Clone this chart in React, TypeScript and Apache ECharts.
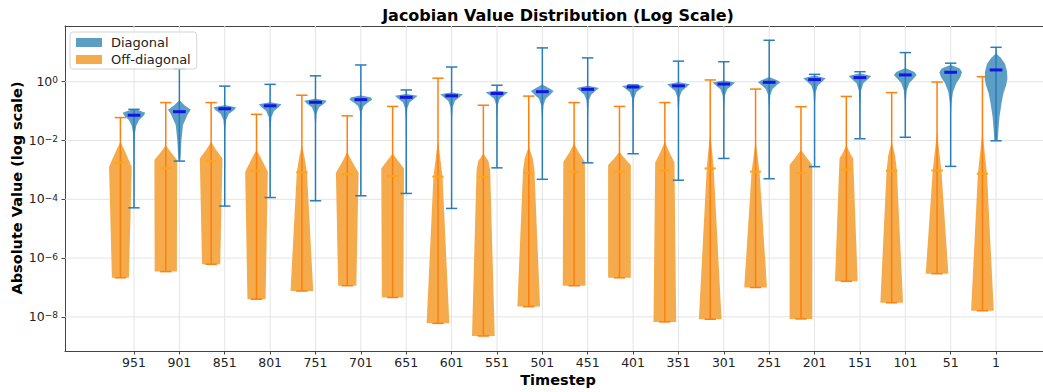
import React, { useEffect, useRef } from 'react';
import * as echarts from 'echarts';

// ---- data (values are log10 of absolute Jacobian values) ----
const timesteps = ['951', '901', '851', '801', '751', '701', '651', '601', '551', '501',
  '451', '401', '351', '301', '251', '201', '151', '101', '51', '1'];

// Off-diagonal
const offMaxExp = [-1.22, -0.71, -0.71, -1.11, -0.46, -1.16, -0.84, 0.12, -0.80, -0.49,
  -0.71, -0.84, -0.71, 0.06, -0.25, -0.85, -0.50, -0.37, -0.01, 0.17];
const offMedExp = [-2.75, -2.95, -2.70, -3.03, -3.08, -3.15, -3.21, -3.23, -3.24, -3.10,
  -3.06, -3.06, -3.02, -2.95, -3.06, -3.10, -2.99, -3.03, -3.02, -3.13];
const offMinExp = [-6.67, -6.46, -6.21, -7.40, -7.12, -6.94, -7.34, -8.22, -8.65, -7.65,
  -6.94, -6.67, -8.17, -8.08, -7.00, -8.07, -6.79, -7.52, -6.53, -7.79];

// Diagonal
const diagMaxExp = [-0.94, 0.45, -0.15, -0.09, 0.20, 0.57, -0.28, 0.50, -0.12, 1.15,
  0.81, -0.11, 0.70, 0.68, 1.41, 0.25, 0.34, 0.99, 0.63, 1.17];
const diagMedExp = [-1.14, -1.02, -0.92, -0.82, -0.70, -0.61, -0.53, -0.48, -0.40, -0.34,
  -0.26, -0.18, -0.14, -0.08, -0.02, 0.07, 0.14, 0.23, 0.32, 0.40];
const diagMinExp = [-4.29, -2.70, -4.23, -3.94, -4.05, -3.88, -3.80, -4.31, -2.93, -3.32,
  -2.76, -2.45, -3.35, -2.61, -3.30, -2.89, -1.94, -1.89, -2.88, -2.01];

// Violin outlines: [log10 value, relative half width], top to bottom
const offProfiles: number[][][] = [
  [[-2.04, 0], [-2.32, 0.35], [-2.89, 1.0], [-6.67, 0.75]],
  [[-2.16, 0], [-2.4, 0.45], [-2.66, 1.0], [-6.46, 0.98]],
  [[-2.04, 0], [-2.3, 0.4], [-2.61, 1.0], [-6.21, 0.8]],
  [[-2.32, 0], [-2.6, 0.4], [-3.06, 1.0], [-7.40, 0.8]],
  [[-2.16, 0], [-2.6, 0.25], [-3.1, 0.45], [-7.12, 1.0]],
  [[-2.38, 0], [-2.7, 0.4], [-3.1, 1.0], [-6.94, 0.8]],
  [[-2.44, 0], [-2.7, 0.5], [-2.95, 1.0], [-7.34, 0.95]],
  [[-2.0, 0], [-2.6, 0.2], [-3.23, 0.4], [-8.22, 1.0]],
  [[-2.44, 0], [-2.7, 0.45], [-3.0, 0.6], [-8.65, 1.0]],
  [[-2.2, 0], [-2.6, 0.35], [-3.0, 0.5], [-7.65, 1.0]],
  [[-2.1, 0], [-2.4, 0.4], [-2.72, 0.95], [-6.94, 1.0]],
  [[-2.38, 0], [-2.6, 0.45], [-2.83, 1.0], [-6.67, 1.0]],
  [[-2.04, 0], [-2.4, 0.4], [-2.75, 0.85], [-8.17, 1.0]],
  [[-1.7, 0], [-2.9, 0.3], [-8.08, 1.0]],
  [[-2.0, 0], [-3.06, 0.35], [-7.0, 1.0]],
  [[-2.32, 0], [-2.55, 0.45], [-2.83, 1.0], [-8.07, 1.0]],
  [[-2.16, 0], [-2.45, 0.35], [-2.6, 0.6], [-6.79, 1.0]],
  [[-2.04, 0], [-2.5, 0.3], [-3.0, 0.45], [-7.52, 1.0]],
  [[-1.7, 0], [-3.02, 0.38], [-6.53, 1.0]],
  [[-1.7, 0], [-3.13, 0.4], [-7.79, 1.0]],
];

const diagProfiles: number[][][] = [
  [[-0.94, 0.15], [-1.06, 1.0], [-1.16, 0.85], [-1.3, 0.45], [-1.5, 0.2], [-1.75, 0.08], [-2.5, 0.03], [-4.29, 0.01]],
  [[-0.65, 0.05], [-0.8, 0.45], [-0.95, 1.0], [-1.1, 0.75], [-1.47, 0.32], [-2.0, 0.18], [-2.6, 0.1], [-2.7, 0.05]],
  [[-0.8, 0.05], [-0.87, 1.0], [-0.95, 0.85], [-1.1, 0.35], [-1.3, 0.12], [-1.7, 0.04], [-4.23, 0.01]],
  [[-0.7, 0.05], [-0.77, 1.0], [-0.85, 0.8], [-1.0, 0.35], [-1.2, 0.12], [-1.6, 0.04], [-3.94, 0.01]],
  [[-0.58, 0.05], [-0.65, 1.0], [-0.73, 0.8], [-0.88, 0.3], [-1.08, 0.1], [-1.5, 0.03], [-4.05, 0.01]],
  [[-0.47, 0.05], [-0.54, 0.9], [-0.61, 1.0], [-0.7, 0.65], [-0.83, 0.25], [-1.02, 0.07], [-1.5, 0.03], [-3.88, 0.01]],
  [[-0.42, 0.05], [-0.48, 1.0], [-0.56, 0.75], [-0.7, 0.3], [-0.9, 0.1], [-1.3, 0.03], [-3.80, 0.01]],
  [[-0.37, 0.05], [-0.43, 1.0], [-0.51, 0.75], [-0.65, 0.3], [-0.85, 0.1], [-1.3, 0.03], [-4.31, 0.01]],
  [[-0.3, 0.05], [-0.36, 1.0], [-0.44, 0.7], [-0.58, 0.25], [-0.78, 0.08], [-1.2, 0.03], [-2.93, 0.01]],
  [[-0.1, 0.05], [-0.22, 0.6], [-0.32, 1.0], [-0.42, 0.75], [-0.58, 0.3], [-0.8, 0.1], [-1.2, 0.03], [-3.32, 0.01]],
  [[-0.14, 0.05], [-0.21, 1.0], [-0.29, 0.75], [-0.44, 0.3], [-0.64, 0.1], [-1.1, 0.03], [-2.76, 0.01]],
  [[-0.11, 0.3], [-0.15, 1.0], [-0.21, 0.75], [-0.35, 0.3], [-0.55, 0.1], [-1.0, 0.03], [-2.45, 0.01]],
  [[-0.02, 0.05], [-0.09, 1.0], [-0.17, 0.75], [-0.32, 0.3], [-0.52, 0.1], [-1.0, 0.03], [-3.35, 0.01]],
  [[0.04, 0.05], [-0.03, 1.0], [-0.11, 0.75], [-0.26, 0.3], [-0.46, 0.1], [-0.9, 0.03], [-2.61, 0.01]],
  [[0.15, 0.05], [0.05, 0.7], [-0.02, 1.0], [-0.1, 0.7], [-0.25, 0.3], [-0.45, 0.1], [-0.9, 0.03], [-3.30, 0.01]],
  [[0.2, 0.1], [0.12, 1.0], [0.03, 0.75], [-0.12, 0.3], [-0.35, 0.1], [-0.8, 0.03], [-2.89, 0.01]],
  [[0.28, 0.1], [0.19, 1.0], [0.1, 0.75], [-0.05, 0.3], [-0.3, 0.1], [-0.8, 0.03], [-1.94, 0.01]],
  [[0.45, 0.1], [0.33, 0.8], [0.23, 1.0], [0.12, 0.75], [-0.05, 0.35], [-0.3, 0.12], [-0.7, 0.04], [-1.89, 0.01]],
  [[0.55, 0.15], [0.45, 0.8], [0.32, 1.0], [0.15, 0.85], [-0.05, 0.5], [-0.35, 0.2], [-0.7, 0.08], [-1.1, 0.03], [-2.88, 0.01]],
  [[1.17, 0], [0.95, 0.05], [0.8, 0.45], [0.6, 0.8], [0.35, 0.97], [0.1, 1.0], [-0.1, 0.9], [-0.4, 0.65], [-0.7, 0.5], [-1.2, 0.3], [-1.6, 0.22], [-2.01, 0.15]],
];

const yTickExps = [-8, -6, -4, -2, 0];
const xTickPos = timesteps.map((_, i) => i);

// ---- layout / style ----
const X_MIN = -1.521;
const X_MAX = 20.035;
const Y_MIN = -9.16;
const Y_MAX = 1.895;
const OFF_SHIFT = -0.3;
const HALF = 0.25;
const CAP = 0.125;
const FONT = '"DejaVu Sans", "Liberation Sans", sans-serif';

const BLUE_FILL = '#5d9fc4';
const BLUE_LINE = '#2a7db8';
const BLUE_MED = '#1414e6';
const ORANGE_FILL = '#f5aa4c';
const ORANGE_LINE = '#ff7f0e';
const ORANGE_MED = '#ffa51a';

function violinRenderer(
  profiles: number[][][], maxs: number[], mins: number[], meds: number[],
  fill: string, line: string, med: string, medWidth: number, medHalf: number,
) {
  return (_params: any, api: any) => {
    const i = api.value(2);
    const x = api.value(0);
    const prof = profiles[i];
    const right = prof.map(([e, w]) => api.coord([x + w * HALF, e]));
    const left = prof.map(([e, w]) => api.coord([x - w * HALF, e])).reverse();
    const top = api.coord([x, maxs[i]]);
    const bot = api.coord([x, mins[i]]);
    const tl = api.coord([x - CAP, maxs[i]]);
    const tr = api.coord([x + CAP, maxs[i]]);
    const bl = api.coord([x - CAP, mins[i]]);
    const br = api.coord([x + CAP, mins[i]]);
    const ml = api.coord([x - medHalf, meds[i]]);
    const mr = api.coord([x + medHalf, meds[i]]);
    return {
      type: 'group',
      children: [
        { type: 'polygon', shape: { points: right.concat(left) }, style: { fill, stroke: null } },
        { type: 'line', shape: { x1: top[0], y1: top[1], x2: bot[0], y2: bot[1] }, style: { stroke: line, lineWidth: 1.5 } },
        { type: 'line', shape: { x1: tl[0], y1: tl[1], x2: tr[0], y2: tr[1] }, style: { stroke: line, lineWidth: 1.5 } },
        { type: 'line', shape: { x1: bl[0], y1: bl[1], x2: br[0], y2: br[1] }, style: { stroke: line, lineWidth: 1.5 } },
        { type: 'line', shape: { x1: ml[0], y1: ml[1], x2: mr[0], y2: mr[1] }, style: { stroke: med, lineWidth: medWidth } },
      ],
    };
  };
}

export default function App() {
  const ref = useRef<HTMLDivElement>(null);

  useEffect(() => {
    document.body.style.margin = '0';
    const chart = echarts.init(ref.current!, null, { renderer: 'svg' });

    const gridColor = '#e4e4e4';
    const axisColor = '#444444';

    const option: any = {
      animation: false,
      textStyle: { fontFamily: FONT },
      grid: { left: 65, right: 0, top: 26, bottom: 41, containLabel: false },
      graphic: [
        {
          type: 'text', x: 558, y: 15, silent: true,
          style: { text: 'Jacobian Value Distribution (Log Scale)', fill: '#000', font: `bold 16px ${FONT}`, align: 'center', verticalAlign: 'middle' },
        },
        {
          type: 'text', x: 558, y: 380, silent: true,
          style: { text: 'Timestep', fill: '#000', font: `bold 14.5px ${FONT}`, align: 'center', verticalAlign: 'middle' },
        },
        {
          type: 'text', x: 17, y: 188, rotation: Math.PI / 2, silent: true,
          style: { text: 'Absolute Value (log scale)', fill: '#000', font: `bold 14.5px ${FONT}`, align: 'center', verticalAlign: 'middle' },
        },
      ],
      legend: {
        data: ['Diagonal', 'Off-diagonal'],
        orient: 'vertical',
        left: 70,
        top: 32,
        icon: 'rect',
        itemWidth: 26,
        itemHeight: 9,
        itemGap: 4,
        padding: [4, 6, 3, 6],
        backgroundColor: 'rgba(255,255,255,0.8)',
        borderColor: '#d4d4d4',
        borderWidth: 1,
        borderRadius: 3,
        selectedMode: false,
        textStyle: { fontSize: 13, color: '#222', fontFamily: FONT, padding: [0, 0, 0, 4] },
        z: 10,
      },
      xAxis: [
        {
          type: 'value', min: X_MIN, max: X_MAX, position: 'bottom',
          axisLine: { show: true, onZero: false, lineStyle: { color: axisColor, width: 1 } },
          axisTick: { show: true, length: 3.5, customValues: xTickPos, lineStyle: { color: axisColor } },
          axisLabel: {
            show: true, customValues: xTickPos, margin: 5, fontSize: 12.5, color: '#222', fontFamily: FONT,
            formatter: (v: number) => timesteps[Math.round(v)] ?? '',
          },
          splitLine: { show: false },
        },
        {
          type: 'value', min: X_MIN, max: X_MAX, position: 'top',
          axisLine: { show: true, onZero: false, lineStyle: { color: axisColor, width: 1 } },
          axisTick: { show: false }, axisLabel: { show: false }, splitLine: { show: false },
        },
      ],
      yAxis: {
        type: 'value', min: Y_MIN, max: Y_MAX,
        axisLine: { show: true, onZero: false, lineStyle: { color: axisColor, width: 1 } },
        axisTick: { show: true, length: 3.5, customValues: yTickExps, lineStyle: { color: axisColor } },
        axisLabel: {
          show: true, customValues: yTickExps, margin: 7, color: '#222', fontFamily: FONT,
          formatter: (v: number) => `{b|10}{s|${v < 0 ? '\u2212' + Math.abs(Math.round(v)) : Math.round(v)}}`,
          rich: {
            b: { fontSize: 12.5, lineHeight: 12, color: '#222', fontFamily: FONT, verticalAlign: 'bottom' },
            s: { fontSize: 9, lineHeight: 9, color: '#222', fontFamily: FONT, verticalAlign: 'top', padding: [0, 0, 5, 0] },
          },
        },
        splitLine: { show: false },
      },
      series: [
        {
          type: 'custom', name: 'vgrid', silent: true, z: 1,
          data: xTickPos.map((p) => [p, 0]),
          encode: { x: 0, y: 1 },
          renderItem: (_p: any, api: any) => {
            const x = api.value(0);
            const a = api.coord([x, Y_MIN]);
            const b = api.coord([x, Y_MAX]);
            return { type: 'line', shape: { x1: a[0], y1: a[1], x2: b[0], y2: b[1] }, style: { stroke: gridColor, lineWidth: 1 } };
          },
        },
        {
          type: 'custom', name: 'hgrid', silent: true, z: 1,
          data: yTickExps.map((e) => [0, e]),
          encode: { x: 0, y: 1 },
          renderItem: (_p: any, api: any) => {
            const y = api.value(1);
            const a = api.coord([X_MIN, y]);
            const b = api.coord([X_MAX, y]);
            return { type: 'line', shape: { x1: a[0], y1: a[1], x2: b[0], y2: b[1] }, style: { stroke: gridColor, lineWidth: 1 } };
          },
        },
        {
          type: 'custom', name: 'Off-diagonal', silent: true, z: 2,
          itemStyle: { color: ORANGE_FILL },
          data: offMedExp.map((m, i) => [i + OFF_SHIFT, m, i]),
          encode: { x: 0, y: 1 },
          renderItem: violinRenderer(offProfiles, offMaxExp, offMinExp, offMedExp, ORANGE_FILL, ORANGE_LINE, ORANGE_MED, 2, CAP),
        },
        {
          type: 'custom', name: 'Diagonal', silent: true, z: 3,
          itemStyle: { color: BLUE_FILL },
          data: diagMedExp.map((m, i) => [i, m, i]),
          encode: { x: 0, y: 1 },
          renderItem: violinRenderer(diagProfiles, diagMaxExp, diagMinExp, diagMedExp, BLUE_FILL, BLUE_LINE, BLUE_MED, 3, 0.14),
        },
      ],
    };

    chart.setOption(option);
    return () => chart.dispose();
  }, []);

  return <div ref={ref} style={{ width: 1043, height: 392 }} />;
}
